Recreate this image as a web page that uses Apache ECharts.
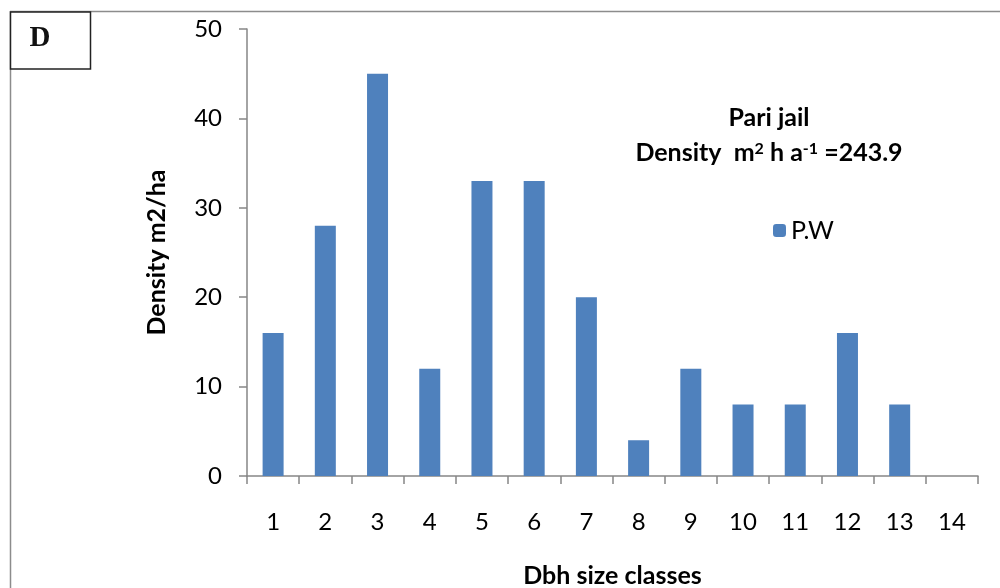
<!DOCTYPE html>
<html>
<head>
<meta charset="utf-8">
<script src="https://cdn.jsdelivr.net/npm/echarts@6/dist/echarts.min.js"></script>
<style>
  html, body { margin: 0; padding: 0; background: #fff; }
  #chart { width: 1000px; height: 588px; }
</style>
</head>
<body>
<div id="chart"></div>
<script>
// Dbh size classes and density values (P.W)
var classes = ['1', '2', '3', '4', '5', '6', '7', '8', '9', '10', '11', '12', '13', '14'];
var pwValues = [16, 28, 45, 12, 33, 33, 20, 4, 12, 8, 8, 16, 8, 0];
var yTicks = { min: 0, max: 50, interval: 10 };

var myChart = echarts.init(document.getElementById('chart'));
var axisGray = '#868686';

myChart.setOption({
    animation: false,
    grid: { left: 247, right: 22, top: 29, bottom: 112, outerBoundsMode: 'none', containLabel: false },
    legend: {
        data: ['P.W'],
        left: 768,
        top: 213,
        itemWidth: 13,
        itemHeight: 13,
        itemGap: 9,
        textStyle: { fontFamily: 'Lato', fontSize: 25, color: '#000' }
    },
    graphic: [
        // outer frame (top and left edges)
        { type: 'line', shape: { x1: 10, y1: 11.5, x2: 1000, y2: 11.5 }, style: { stroke: '#8c8c8c', lineWidth: 1.5 } },
        { type: 'line', shape: { x1: 10.5, y1: 11, x2: 10.5, y2: 588 }, style: { stroke: '#8c8c8c', lineWidth: 1.5 } },
        // panel label box
        { type: 'rect', shape: { x: 10.5, y: 12, width: 80, height: 57 }, style: { fill: '#fff', stroke: '#222', lineWidth: 1.5 } },
        { type: 'text', style: { x: 40, y: 39, text: 'D', align: 'center', verticalAlign: 'middle', font: 'bold 29px "Liberation Serif"', fill: '#111' } },
        // chart annotation
        {
            type: 'text',
            style: {
                x: 769, y: 118, text: 'Pari jail', align: 'center', verticalAlign: 'middle',
                font: 'bold 25px Lato', fill: '#000'
            }
        },
        {
            type: 'text',
            style: {
                x: 769, y: 153, align: 'center', verticalAlign: 'middle',
                text: '{t|Density  m}{s|2}{t| h a}{s|-1}{t| =243.9}',
                rich: {
                    t: { fontFamily: 'Lato', fontWeight: 'bold', fontSize: 25, fill: '#000', verticalAlign: 'bottom' },
                    s: { fontFamily: 'Lato', fontWeight: 'bold', fontSize: 16, fill: '#000', verticalAlign: 'top' }
                }
            }
        }
    ],
    xAxis: {
        type: 'category',
        data: classes,
        name: 'Dbh size classes',
        nameLocation: 'middle',
        nameGap: 87,
        nameTextStyle: { fontFamily: 'Lato', fontWeight: 'bold', fontSize: 25, color: '#000' },
        axisLine: { lineStyle: { color: axisGray, width: 1.5 } },
        axisTick: { show: true, length: 8, lineStyle: { color: axisGray, width: 1.5 } },
        axisLabel: { fontFamily: 'Lato', fontSize: 24, color: '#000', margin: 34 }
    },
    yAxis: {
        type: 'value',
        min: yTicks.min,
        max: yTicks.max,
        interval: yTicks.interval,
        name: 'Density m2/ha',
        nameLocation: 'middle',
        nameGap: 78,
        nameTextStyle: { fontFamily: 'Lato', fontWeight: 'bold', fontSize: 25, color: '#000' },
        axisLine: { show: true, lineStyle: { color: axisGray, width: 1.5 } },
        axisTick: { show: true, length: 8, lineStyle: { color: axisGray, width: 1.5 } },
        axisLabel: { fontFamily: 'Lato', fontSize: 24, color: '#000', margin: 25 },
        splitLine: { show: false }
    },
    series: [{
        name: 'P.W',
        type: 'bar',
        data: pwValues,
        barWidth: 21,
        itemStyle: { color: '#4F81BD' }
    }]
});
</script>
</body>
</html>
